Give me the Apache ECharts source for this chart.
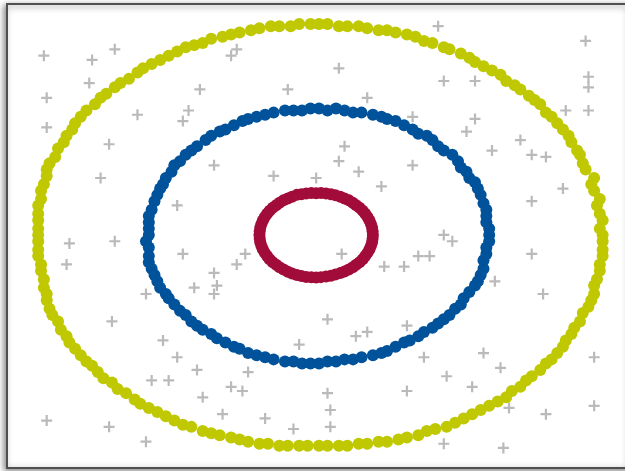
<!DOCTYPE html>
<html>
<head>
<meta charset="utf-8">
<script src="https://cdn.jsdelivr.net/npm/echarts@6/dist/echarts.min.js"></script>
<style>
    html, body { margin: 0; padding: 0; background: #fff; overflow: hidden; }
    #chart { width: 640px; height: 471px; }
</style>
</head>
<body>
<div id="chart"></div>
<script>
// 外圈
let outerRing = [
    [1.00,0.00],[0.99,0.03],[1.00,0.07],[0.99,0.10],[0.98,0.14],[0.99,0.17],[0.97,0.21],[0.96,0.24],[0.97,0.27],[0.94,0.31],
    [0.93,0.34],[0.92,0.38],[0.91,0.40],[0.89,0.44],[0.88,0.47],[0.86,0.50],[0.84,0.53],[0.82,0.56],[0.80,0.58],[0.78,0.62],
    [0.76,0.64],[0.74,0.66],[0.71,0.69],[0.69,0.71],[0.66,0.73],[0.64,0.76],[0.61,0.78],[0.58,0.80],[0.55,0.82],[0.53,0.84],
    [0.50,0.86],[0.46,0.88],[0.44,0.89],[0.40,0.91],[0.37,0.92],[0.34,0.94],[0.31,0.95],[0.27,0.96],[0.24,0.97],[0.21,0.97],
    [0.17,0.98],[0.14,0.99],[0.10,0.99],[0.07,0.99],[0.03,1.00],
    [0.00,1.00],[-0.03,1.00],[-0.07,1.00],[-0.10,0.99],[-0.14,0.99],[-0.17,0.99],[-0.21,0.98],[-0.24,0.97],[-0.28,0.96],[-0.31,0.95],
    [-0.34,0.94],[-0.38,0.93],[-0.41,0.91],[-0.44,0.90],[-0.47,0.89],[-0.50,0.87],[-0.53,0.85],[-0.56,0.83],[-0.59,0.81],[-0.62,0.79],
    [-0.64,0.77],[-0.67,0.74],[-0.70,0.72],[-0.72,0.70],[-0.75,0.67],[-0.77,0.65],[-0.79,0.62],[-0.82,0.59],[-0.84,0.56],[-0.86,0.53],
    [-0.87,0.50],[-0.89,0.47],[-0.90,0.44],[-0.92,0.41],[-0.93,0.37],[-0.95,0.34],[-0.96,0.31],[-0.96,0.28],[-0.97,0.24],[-0.98,0.21],
    [-0.98,0.17],[-0.99,0.14],[-0.99,0.10],[-0.99,0.07],[-0.99,0.03],
    [-0.99,0.00],[-0.99,-0.03],[-0.99,-0.07],[-0.99,-0.10],[-0.98,-0.14],[-0.98,-0.17],[-0.97,-0.21],[-0.97,-0.25],[-0.96,-0.28],[-0.96,-0.31],
    [-0.95,-0.35],[-0.94,-0.38],[-0.92,-0.41],[-0.91,-0.45],[-0.89,-0.48],[-0.88,-0.51],[-0.86,-0.54],[-0.84,-0.57],[-0.82,-0.60],[-0.80,-0.62],
    [-0.78,-0.65],[-0.76,-0.68],[-0.73,-0.70],[-0.71,-0.73],[-0.68,-0.75],[-0.65,-0.78],[-0.63,-0.80],[-0.60,-0.82],[-0.57,-0.84],[-0.54,-0.86],
    [-0.51,-0.88],[-0.48,-0.90],[-0.45,-0.91],[-0.41,-0.93],[-0.38,-0.94],[-0.35,-0.95],[-0.31,-0.96],[-0.28,-0.97],[-0.25,-0.98],[-0.21,-0.99],
    [-0.18,-0.99],[-0.14,-1.00],[-0.11,-1.00],[-0.07,-1.00],[-0.04,-1.00],
    [0.00,-1.00],[0.03,-1.00],[0.07,-1.00],[0.10,-1.00],[0.14,-0.99],[0.17,-0.99],[0.21,-0.98],[0.24,-0.98],[0.28,-0.97],[0.31,-0.96],
    [0.35,-0.95],[0.38,-0.93],[0.41,-0.92],[0.45,-0.91],[0.48,-0.89],[0.51,-0.87],[0.54,-0.85],[0.57,-0.83],[0.60,-0.81],[0.63,-0.79],
    [0.66,-0.77],[0.68,-0.74],[0.71,-0.72],[0.73,-0.69],[0.75,-0.67],[0.78,-0.64],[0.80,-0.61],[0.82,-0.59],[0.84,-0.56],[0.86,-0.53],
    [0.87,-0.50],[0.89,-0.47],[0.90,-0.44],[0.92,-0.41],[0.93,-0.37],[0.95,-0.34],[0.96,-0.31],[0.97,-0.28],[0.97,-0.24],[0.98,-0.21],
    [0.99,-0.17],[0.99,-0.14],[1.00,-0.10],[1.00,-0.07],[1.00,-0.03]
];

// 中圈
let middleRing = [
    [0.60,0.00],[0.60,0.03],[0.59,0.06],[0.59,0.09],[0.59,0.12],[0.58,0.15],[0.57,0.19],[0.56,0.22],[0.55,0.25],[0.53,0.27],
    [0.52,0.30],[0.50,0.32],[0.49,0.35],[0.47,0.38],[0.44,0.40],[0.42,0.42],[0.40,0.45],[0.38,0.47],[0.35,0.48],[0.33,0.50],
    [0.30,0.52],[0.27,0.54],[0.24,0.55],[0.22,0.56],[0.19,0.57],[0.15,0.58],[0.12,0.58],[0.09,0.59],[0.06,0.60],[0.03,0.59],
    [0.00,0.60],[-0.03,0.60],[-0.06,0.59],[-0.09,0.59],[-0.12,0.59],[-0.16,0.58],[-0.19,0.57],[-0.22,0.56],[-0.25,0.55],[-0.27,0.54],
    [-0.30,0.52],[-0.33,0.50],[-0.35,0.49],[-0.38,0.47],[-0.40,0.45],[-0.43,0.42],[-0.45,0.40],[-0.47,0.38],[-0.49,0.35],[-0.51,0.33],
    [-0.52,0.30],[-0.54,0.27],[-0.55,0.24],[-0.56,0.22],[-0.57,0.19],[-0.58,0.16],[-0.59,0.12],[-0.60,0.09],[-0.60,0.06],[-0.60,0.03],
    [-0.60,0.00],[-0.61,-0.03],[-0.60,-0.06],[-0.60,-0.10],[-0.60,-0.13],[-0.59,-0.16],[-0.58,-0.19],[-0.57,-0.22],[-0.56,-0.25],[-0.54,-0.28],
    [-0.53,-0.30],[-0.51,-0.33],[-0.49,-0.36],[-0.47,-0.38],[-0.45,-0.41],[-0.43,-0.43],[-0.41,-0.45],[-0.38,-0.47],[-0.36,-0.49],[-0.33,-0.51],
    [-0.30,-0.53],[-0.28,-0.54],[-0.25,-0.56],[-0.22,-0.57],[-0.19,-0.58],[-0.16,-0.59],[-0.12,-0.60],[-0.09,-0.60],[-0.06,-0.61],[-0.03,-0.61],
    [0.00,-0.61],[0.03,-0.60],[0.06,-0.60],[0.09,-0.59],[0.12,-0.59],[0.15,-0.58],[0.19,-0.57],[0.22,-0.56],[0.24,-0.55],[0.27,-0.53],
    [0.30,-0.51],[0.32,-0.50],[0.35,-0.48],[0.37,-0.46],[0.40,-0.44],[0.42,-0.42],[0.44,-0.40],[0.46,-0.38],[0.48,-0.35],[0.50,-0.33],
    [0.51,-0.30],[0.53,-0.27],[0.55,-0.24],[0.56,-0.22],[0.57,-0.19],[0.58,-0.16],[0.58,-0.12],[0.59,-0.09],[0.59,-0.06],[0.60,-0.03]
];

// 内圈
let innerRing = [
    [0.190,0.000],[0.189,0.017],[0.187,0.035],[0.183,0.052],[0.178,0.068],[0.171,0.085],[0.163,0.100],[0.154,0.115],[0.143,0.129],[0.131,0.141],
    [0.119,0.153],[0.105,0.164],[0.090,0.173],[0.075,0.181],[0.058,0.188],[0.042,0.193],[0.025,0.197],[0.007,0.199],[-0.010,0.198],[-0.027,0.199],
    [-0.045,0.197],[-0.062,0.193],[-0.078,0.190],[-0.095,0.181],[-0.110,0.173],[-0.125,0.164],[-0.139,0.153],[-0.151,0.141],[-0.163,0.129],[-0.174,0.115],
    [-0.183,0.100],[-0.191,0.085],[-0.198,0.068],[-0.203,0.052],[-0.207,0.035],[-0.209,0.017],[-0.210,0.000],[-0.209,-0.017],[-0.207,-0.035],[-0.203,-0.052],
    [-0.198,-0.068],[-0.191,-0.085],[-0.183,-0.100],[-0.174,-0.115],[-0.163,-0.129],[-0.151,-0.141],[-0.139,-0.153],[-0.125,-0.164],[-0.110,-0.175],[-0.095,-0.183],
    [-0.078,-0.190],[-0.062,-0.195],[-0.045,-0.199],[-0.027,-0.201],[-0.010,-0.202],[0.007,-0.200],[0.025,-0.197],[0.042,-0.193],[0.058,-0.188],[0.075,-0.181],
    [0.090,-0.173],[0.105,-0.164],[0.119,-0.153],[0.131,-0.141],[0.143,-0.129],[0.154,-0.115],[0.163,-0.100],[0.171,-0.085],[0.178,-0.068],[0.183,-0.052],
    [0.187,-0.035],[0.189,-0.017]
];

// 噪声点
let noisePoints = [
    [-0.97,0.85],[-0.80,0.83],[-0.72,0.88],[-0.81,0.72],[-0.96,0.65],[-0.96,0.51],[-0.64,0.57],[-0.74,0.43],[-0.77,0.27],[-0.50,0.14],
    [-0.37,0.33],[-0.42,0.69],[-0.46,0.59],[-0.48,0.54],[-0.29,0.88],[-0.31,0.85],[-0.11,0.69],[-0.16,0.28],[-0.01,0.27],[-0.88,-0.04],
    [-0.72,-0.03],[0.42,0.99],[0.94,0.92],[0.07,0.79],[0.44,0.73],[0.55,0.73],[0.95,0.75],[0.95,0.70],[0.17,0.65],[0.87,0.59],
    [0.95,0.59],[0.33,0.56],[0.55,0.55],[0.52,0.49],[0.71,0.45],[0.09,0.42],[0.07,0.35],[0.14,0.30],[0.33,0.33],[0.61,0.40],
    [0.75,0.38],[0.80,0.37],[0.22,0.23],[0.86,0.22],[0.75,0.16],[0.44,0.00],[0.47,-0.03],[-0.89,-0.14],[-0.48,-0.09],[-0.26,-0.09],
    [-0.29,-0.14],[-0.37,-0.18],[-0.36,-0.24],[-0.44,-0.25],[-0.37,-0.28],[-0.61,-0.28],[-0.73,-0.41],[-0.55,-0.50],[-0.50,-0.58],[-0.43,-0.64],
    [-0.59,-0.69],[-0.53,-0.69],[-0.25,-0.65],[-0.31,-0.72],[-0.27,-0.74],[-0.41,-0.77],[-0.07,-0.52],[-0.34,-0.85],[-0.19,-0.87],[-0.09,-0.92],
    [-0.96,-0.88],[-0.74,-0.91],[-0.61,-0.98],[0.08,-0.09],[0.35,-0.10],[0.39,-0.10],[0.23,-0.15],[0.30,-0.15],[0.75,-0.09],[0.62,-0.22],
    [0.79,-0.28],[0.03,-0.40],[0.13,-0.48],[0.17,-0.46],[0.31,-0.43],[0.37,-0.58],[0.58,-0.56],[0.64,-0.63],[0.45,-0.67],[0.54,-0.72],
    [0.31,-0.74],[0.03,-0.75],[0.04,-0.83],[0.04,-0.91],[0.67,-0.82],[0.80,-0.85],[0.97,-0.58],[0.97,-0.81],[0.44,-0.99],[0.65,-1.01]
];

let myChart = echarts.init(document.getElementById('chart'));

let option = {
    animation: false,
    backgroundColor: '#fff',
    // 画布比窗口宽一些，右边框落在窗口外
    grid: {
        show: true,
        left: 7,
        right: 9,
        top: 4,
        bottom: 3,
        backgroundColor: '#fff',
        borderColor: '#505050',
        borderWidth: 2,
        shadowBlur: 6,
        shadowOffsetX: -2,
        shadowOffsetY: 2,
        shadowColor: 'rgba(0, 0, 0, 0.45)'
    },
    xAxis: {
        type: 'value',
        min: -1.1,
        max: 1.1,
        show: false
    },
    yAxis: {
        type: 'value',
        min: -1.105,
        max: 1.095,
        show: false
    },
    series: [
        {
            name: 'noise',
            type: 'scatter',
            symbol: 'path://M4,0H6V4H10V6H6V10H4V6H0V4H4Z',
            symbolSize: 11,
            itemStyle: { color: '#a9a9a9' },
            data: noisePoints
        },
        {
            name: 'outer',
            type: 'scatter',
            symbolSize: 12,
            itemStyle: { color: '#bfc800', opacity: 1 },
            data: outerRing
        },
        {
            name: 'middle',
            type: 'scatter',
            symbolSize: 12,
            itemStyle: { color: '#00529b', opacity: 1 },
            data: middleRing
        },
        {
            name: 'inner',
            type: 'scatter',
            symbolSize: 12,
            itemStyle: { color: '#a20c3a', opacity: 1 },
            data: innerRing
        }
    ]
};

myChart.setOption(option);
</script>
</body>
</html>
